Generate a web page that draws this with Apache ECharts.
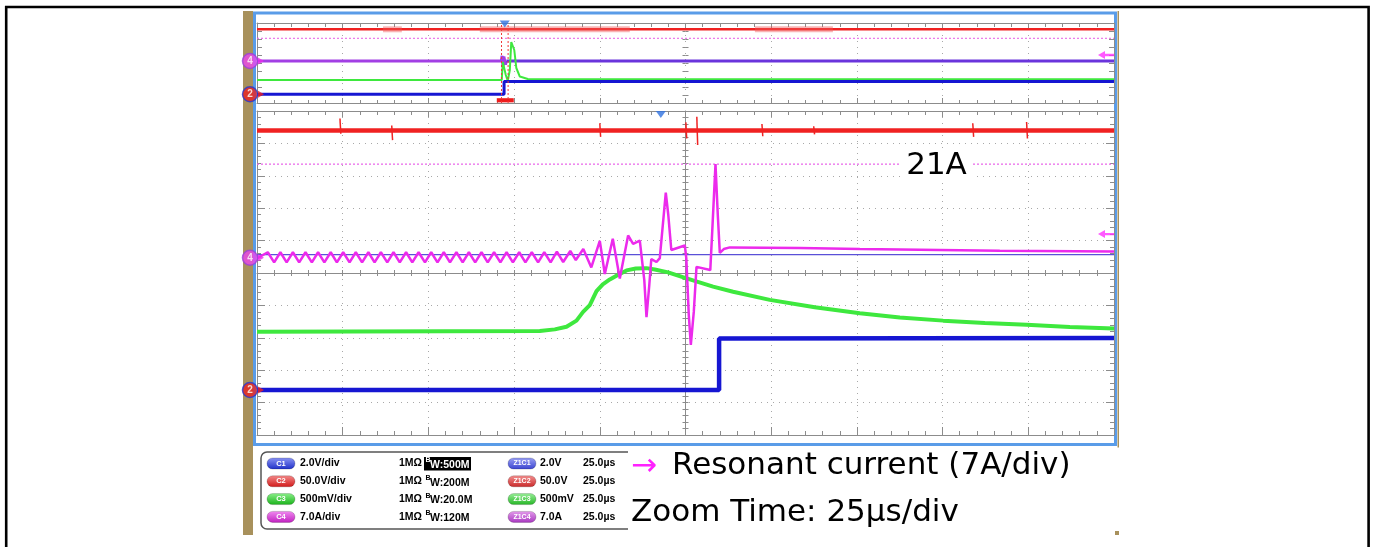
<!DOCTYPE html>
<html><head><meta charset="utf-8">
<script src="https://cdn.jsdelivr.net/npm/echarts@6/dist/echarts.min.js"></script>
<style>html,body{margin:0;padding:0;background:#fff}#c{width:1375px;height:547px}</style>
</head><body><div id="c"></div>
<script>
// ================= DATA =================
// Zoom (main) panel: x = time in µs (25 µs/div), y = screen divisions (10 div tall)
const ch1Main = [[-125,-3.61],[9.8,-3.61],[9.8,-2.02],[125,-2.01]];
const ch2Level = 4.40;
// ch2 glitches: [time µs, top div, bottom div]
const ch2Spikes = [[-100.8,4.77,4.30],[-85.7,4.55,4.10],[-25.0,4.62,4.20],[0.1,4.65,4.15],[3.3,4.82,3.95],
  [22.3,4.60,4.22],[37.4,4.53,4.28],[83.8,4.62,4.20],[99.5,4.66,4.15]];
const ch3Main = [[-125,-1.81],[-42.5,-1.79],[-38.13,-1.74],[-34.71,-1.66],[-31.8,-1.47],[-29.87,-1.2],[-27.92,-0.99],
  [-25.96,-0.56],[-24.13,-0.35],[-22.08,-0.2],[-19.75,-0.06],[-17.21,0.08],[-14.5,0.14],[-11.38,0.15],[-8.96,0.11],
  [-5.08,0.02],[0.09,-0.16],[8.05,-0.42],[13.89,-0.58],[24.59,-0.83],[37.72,-1.06],[50.85,-1.24],[62.52,-1.37],
  [75.15,-1.47],[87.31,-1.54],[99.48,-1.6],[112.11,-1.67],[125,-1.71]];
const ch4Main = [[-125,0.45],[-121.85,0.64],[-120.0,0.33],[-118.18,0.64],[-116.35,0.33],[-114.53,0.64],[-112.7,0.33],
  [-110.85,0.64],[-109.0,0.33],[-107.18,0.64],[-105.35,0.33],[-103.5,0.64],[-101.7,0.33],[-99.86,0.64],[-98.0,0.33],
  [-96.18,0.64],[-94.35,0.33],[-92.5,0.64],[-90.7,0.33],[-88.86,0.64],[-87.0,0.33],[-85.18,0.64],[-83.35,0.33],
  [-81.51,0.64],[-79.7,0.33],[-77.86,0.64],[-76.0,0.33],[-74.18,0.64],[-72.35,0.33],[-70.51,0.64],[-68.7,0.33],
  [-66.83,0.64],[-65.0,0.33],[-63.19,0.64],[-61.35,0.33],[-59.51,0.64],[-57.7,0.33],[-55.84,0.64],[-54.0,0.33],
  [-52.19,0.64],[-50.35,0.33],[-48.51,0.64],[-46.7,0.33],[-44.84,0.64],[-43.0,0.33],[-41.19,0.64],[-39.35,0.33],
  [-37.52,0.66],[-35.68,0.34],[-33.61,0.68],[-32.0,0.40],[-29.81,0.74],[-27.48,0.17],[-25.0,0.99],[-23.54,-0.03],
  [-21.21,1.06],[-19.17,-0.17],[-16.74,1.16],[-15.29,0.90],[-13.33,1.00],[-12.75,0.99],[-12.02,-0.22],[-11.38,-1.36],
  [-10.56,-0.37],[-9.98,0.43],[-8.46,0.34],[-7.5,0.46],[-6.62,1.48],[-5.75,2.48],[-5.02,1.79],[-4.14,0.71],
  [-3.56,0.77],[-0.2,0.85],[0.23,0.46],[0.96,-1.30],[1.55,-2.22],[2.42,-1.20],[3.21,0.19],[3.73,0.20],[7.23,0.09],
  [7.82,1.33],[8.75,3.36],[9.42,1.79],[10.01,0.62],[11.17,0.74],[12.92,0.79],[33.34,0.77],[50.85,0.74],[91.69,0.69],[125,0.66]];
const ch4RefLevel = 0.57;
const cursorLevel = 3.36;
const cursorLabel = '21A';
const mainTrigger = [-7.2, 4.89];
const mainMarkers = [{ch:'4', v:0.47}, {ch:'2', v:-3.61}];
const mainArrowLevel = 1.20;

// Overview panel: x = divisions (-5..5), y = eighth-divisions (-5..5)
const ovCh1 = [[-5,-3.91],[-2.117,-3.91],[-2.117,-2.31],[5,-2.31]];
const ovCh2Level = 4.21;
const ovCh2Bursts = [[-3.53,-3.31],[-2.40,-0.65],[0.81,1.72]];
const ovCh3 = [[-5,-2.125],[-2.144,-2.125],[-2.132,0.125],[-2.109,0.375],[-2.097,-1.5],[-2.074,-2.25],[-2.05,-0.875],
  [-2.033,2.625],[-2.015,2.75],[-1.998,1.625],[-1.974,-0.625],[-1.933,-1.69],[-1.84,-2.0],[-1.0,-2.04],[5,-2.04]];
const ovCh4 = [[-5,0.25],[-2.15,0.25],[-2.14,0.9],[-2.13,-0.4],[-2.12,0.8],[-2.10,-0.2],[-2.09,0.25],[5,0.25]];
const ovCursorLevel = 3.09;
const ovCursorsX = [-2.147, -2.07];
const ovZoomWindow = [-2.202, -2.004];
const ovTrigger = [-2.109, 4.875];
const ovMarkers = [{ch:'4', v:0.25}, {ch:'2', v:-3.91}];
const ovArrowLevel = 1.0;

// Legend table
const legendCh = ['C1','C2','C3','C4'];
const legendScale = ['2.0V/div','50.0V/div','500mV/div','7.0A/div'];
const legendImp = ['1MΩ','1MΩ','1MΩ','1MΩ'];
const legendBw = ['500M','200M','20.0M','120M'];
const legendZoom = ['Z1C1','Z1C2','Z1C3','Z1C4'];
const legendZoomScale = ['2.0V','50.0V','500mV','7.0A'];
const legendZoomTime = ['25.0µs','25.0µs','25.0µs','25.0µs'];
const noteLine1 = 'Resonant current (7A/div)';
const noteLine2 = 'Zoom Time: 25µs/div';

// ================= STYLE =================
const GRAY = '#8c8c8c', DOT = '#a8a8a8';
const RED = '#f02222', GREEN = '#3ee83e', BLUE = '#1616d2', MAG = '#ec2aec';
const pillCols = [['#8a94f4','#1f2fc8'],['#f48a8a','#d01818'],['#8af08a','#18b018'],['#f08af0','#c020c0']];
const zPillCols = [['#9aa0f4','#3a44d0'],['#f49090','#c82828'],['#9af09a','#24b424'],['#e39aeb','#a838c0']];

function ax(o){
  return {type:'value', gridIndex:o.grid, min:o.min, max:o.max, interval:o.interval, position:o.pos,
    axisLabel:{show:false},
    axisLine:{show:o.line!==false, onZero:!!o.onZero, onZeroAxisIndex:o.onZeroIdx, lineStyle:{color:GRAY,width:1}},
    axisTick:{show:true, inside:!!o.inside, length:o.tick, lineStyle:{color:GRAY,width:1}},
    minorTick:{show:!!o.minor, splitNumber:5, length:o.minor||0, lineStyle:{color:GRAY,width:1}},
    splitLine:{show:!!o.split, lineStyle:{color:DOT,width:1,type:[1,5]}},
    minorSplitLine:{show:false}, silent:true};
}
const OV = {grid:0,min:-5,max:5,interval:1};
const MX = {grid:1,min:-125,max:125,interval:25};
const MY = {grid:1,min:-5,max:5,interval:1};
const xAxes = [
  ax(Object.assign({},OV,{pos:'bottom',inside:true,tick:5,minor:3,split:true})),
  ax(Object.assign({},OV,{pos:'top',inside:true,tick:6,minor:4})),
  ax(Object.assign({},MX,{pos:'bottom',inside:true,tick:8,minor:4,split:true})),
  ax(Object.assign({},MX,{pos:'top',inside:true,tick:6,minor:4})),
  ax(Object.assign({},MX,{pos:'bottom',onZero:true,onZeroIdx:2,inside:true,tick:3,minor:3})),
  ax(Object.assign({},MX,{pos:'top',onZero:true,onZeroIdx:2,line:false,inside:true,tick:3,minor:3}))
];
const yAxes = [
  ax(Object.assign({},OV,{pos:'left',inside:true,tick:5})),
  ax(Object.assign({},OV,{pos:'right',inside:true,tick:5})),
  ax(Object.assign({},MY,{pos:'left',inside:true,tick:8,minor:4,split:true})),
  ax(Object.assign({},MY,{pos:'right',inside:true,tick:8,minor:4})),
  ax(Object.assign({},MY,{pos:'left',onZero:true,onZeroIdx:2,inside:false,tick:3,minor:3})),
  ax(Object.assign({},MY,{pos:'right',onZero:true,onZeroIdx:2,line:false,inside:false,tick:3,minor:3})),
  ax(Object.assign({},OV,{pos:'left',onZero:true,onZeroIdx:0,line:false,inside:false,tick:3})),
  ax(Object.assign({},OV,{pos:'right',onZero:true,onZeroIdx:0,line:false,inside:false,tick:3}))
];

function line(data, xi, yi, color, width, extra){
  return Object.assign({type:'line', data:data, xAxisIndex:xi, yAxisIndex:yi, symbol:'none', showSymbol:false,
    animation:false, silent:true, z:3, lineStyle:{color:color, width:width}}, extra||{});
}
function markerSeries(xi, yi, xEdge, list){
  const cfg = {'4':{fill:'#ec46ec',border:'#9a40d8',arrow:MAG}, '2':{fill:'#e82020',border:'#2838d0',arrow:RED}};
  return [{type:'scatter', xAxisIndex:xi, yAxisIndex:yi, clip:false, silent:true, animation:false, z:10,
    symbol:'circle', symbolSize:15, symbolOffset:[-7,0],
    data:list.map(m=>({value:[xEdge,m.v], itemStyle:{color:cfg[m.ch].fill, borderColor:cfg[m.ch].border, borderWidth:1.5},
      label:{show:true, formatter:m.ch, color:'#fff', fontSize:10, fontWeight:'bold', fontFamily:'Liberation Sans'}}))},
   {type:'scatter', xAxisIndex:xi, yAxisIndex:yi, clip:false, silent:true, animation:false, z:10,
    symbol:'triangle', symbolRotate:-90, symbolSize:[7,6], symbolOffset:[4,0],
    data:list.map(m=>({value:[xEdge,m.v], itemStyle:{color:cfg[m.ch].arrow}}))}];
}
const arrowPath = 'path://M0,5L7,0L7,3.5L16,3.5L16,6.5L7,6.5L7,10Z';
function arrowSeries(xi, yi, xEdge, v){
  return {type:'scatter', xAxisIndex:xi, yAxisIndex:yi, clip:false, silent:true, animation:false, z:10,
    symbol:arrowPath, symbolSize:[16,8], symbolOffset:[-8,0], itemStyle:{color:'#ff30ff'}, data:[[xEdge,v]]};
}
function trigSeries(xi, yi, p){
  return {type:'scatter', xAxisIndex:xi, yAxisIndex:yi, clip:false, silent:true, animation:false, z:10,
    symbol:'triangle', symbolRotate:180, symbolSize:[10,7], itemStyle:{color:'#2f72e0'}, data:[p]};
}

const series = [];
// ---- overview ----
series.push(line([[-5,ovCursorLevel],[5,ovCursorLevel]],0,0,'#e65ce6',1,{lineStyle:{color:'#e65ce6',width:1,type:[2,2]}}));
series.push(line([[-5,ovCh2Level],[5,ovCh2Level]],0,0,RED,2.5));
ovCh2Bursts.forEach(b=>series.push(line([[b[0],ovCh2Level],[b[1],ovCh2Level]],0,0,'rgba(240,90,90,0.45)',6)));
series.push(line(ovCh4.filter(p=>p[0]<=-2.09),0,0,'#a23fe4',3));
series.push(line(ovCh4.filter(p=>p[0]>=-2.09),0,0,'#6a34dc',3));
series.push(line(ovCh3,0,0,GREEN,2));
series.push(line(ovCh1,0,0,BLUE,3));
ovCursorsX.forEach(x=>series.push(line([[x,-5],[x,5]],0,0,RED,1,{lineStyle:{color:'#f03a3a',width:1,type:[2,2]}})));
series.push({type:'line', xAxisIndex:0, yAxisIndex:0, data:[], silent:true, animation:false,
  markArea:{silent:true, itemStyle:{color:'#ee1c1c'}, data:[[{xAxis:ovZoomWindow[0],yAxis:-4.92},{xAxis:ovZoomWindow[1],yAxis:-4.4}]]}});
series.push(trigSeries(0,0,ovTrigger));
markerSeries(0,0,-5,ovMarkers).forEach(s=>series.push(s));
series.push(arrowSeries(0,0,5,ovArrowLevel));
// ---- main ----
series.push(line([[-125,cursorLevel],[125,cursorLevel]],2,2,'#e860e8',1.2,{lineStyle:{color:'#e860e8',width:1.2,type:[2,2]}}));
series.push(line([[-125,ch4RefLevel],[125,ch4RefLevel]],2,2,'#5a50d8',1.2));
series.push(line(ch3Main,2,2,GREEN,4));
series.push(line(ch1Main,2,2,BLUE,4.5));
series.push(line([[-125,ch2Level],[125,ch2Level]],2,2,RED,4.5));
ch2Spikes.forEach(s=>series.push(line([[s[0],s[1]],[s[0]+0.25,s[2]]],2,2,RED,1.5)));
series.push(line(ch4Main,2,2,MAG,2.5));
series.push(trigSeries(2,2,mainTrigger));
markerSeries(2,2,-125,mainMarkers).forEach(s=>series.push(s));
series.push(arrowSeries(2,2,125,mainArrowLevel));

// ---- graphic (frame, legend, notes) ----
function grad(c){return {type:'linear',x:0,y:0,x2:0,y2:1,colorStops:[{offset:0,color:c[0]},{offset:1,color:c[1]}]};}
function txt(x,y,t,font,fill,align,z){
  return {type:'text', x:x, y:y, z:z||5, silent:true,
    style:{text:t, font:font, fill:fill||'#000', align:align||'left', textAlign:align||'left', verticalAlign:'middle', textVerticalAlign:'middle'}};
}
const LF = 'bold 10.5px "Liberation Sans", Arial, sans-serif';
const g = [];
g.push({type:'rect', z:-100, silent:true, shape:{x:243,y:11,width:876,height:524}, style:{fill:'#a8915c'}});
g.push({type:'rect', z:-99, silent:true, shape:{x:253,y:11,width:864.5,height:524}, style:{fill:'#fff'}});
g.push({type:'rect', z:-98, silent:true, shape:{x:254.5,y:13,width:861,height:431.5}, style:{fill:'none', stroke:'#5a9ce8', lineWidth:3}});
g.push({type:'rect', z:-97, silent:true, shape:{x:261,y:452,width:420,height:77,r:6}, style:{fill:'#fff', stroke:'#555', lineWidth:1.5}});
legendCh.forEach((c,i)=>{
  const y = 463.5 + 17.8*i;
  g.push({type:'rect', z:5, silent:true, shape:{x:267,y:y-5.5,width:28,height:11,r:5.5}, style:{fill:grad(pillCols[i]), stroke:'rgba(0,0,0,0.3)', lineWidth:0.6}});
  g.push(txt(281,y,c,'bold 7.5px "Liberation Sans", Arial','#fff','center',6));
  g.push(txt(300,y,legendScale[i],LF));
  g.push(txt(399,y,legendImp[i],LF));
  const hi = i===0;
  if (hi) g.push({type:'rect', z:5, silent:true, shape:{x:424,y:y-6.5,width:47,height:13.5}, style:{fill:'#000'}});
  g.push(txt(425.5,y-3.5,'B','bold 7px "Liberation Sans", Arial',hi?'#fff':'#000','left',6));
  g.push(txt(430,y+1.5,'W:'+legendBw[i],LF,hi?'#fff':'#000','left',6));
  g.push({type:'rect', z:5, silent:true, shape:{x:508,y:y-5.5,width:28,height:11,r:5.5}, style:{fill:grad(zPillCols[i]), stroke:'rgba(0,0,0,0.3)', lineWidth:0.6}});
  g.push(txt(522,y,legendZoom[i],'bold 7px "Liberation Sans", Arial','#fff','center',6));
  g.push(txt(540,y,legendZoomScale[i],LF));
  g.push(txt(583,y,legendZoomTime[i],LF));
});
// notes box
g.push({type:'rect', z:100, silent:true, shape:{x:628,y:447.5,width:492,height:84}, style:{fill:'#fff'}});
g.push({type:'rect', z:100, silent:true, shape:{x:1115,y:531,width:4,height:4}, style:{fill:'#a8915c'}});
g.push(txt(631,466.5,'→','31px "DejaVu Sans", Verdana, sans-serif','#ff22ff','left',101));
g.push(txt(672,466,noteLine1,'31px "DejaVu Sans", Verdana, sans-serif','#000','left',101));
g.push(txt(631,512.5,noteLine2,'31px "DejaVu Sans", Verdana, sans-serif','#000','left',101));
// 21A label
g.push({type:'text', x:936.5, y:165.5, z:100, silent:true,
  style:{text:cursorLabel, font:'31px "DejaVu Sans", Verdana, sans-serif', fill:'#000', align:'center', textAlign:'center',
    verticalAlign:'middle', textVerticalAlign:'middle', backgroundColor:'#fff', padding:[2,6]}});
// outer black frame
g.push({type:'polyline', z:100, silent:true, shape:{points:[[6.2,547],[6.2,7],[1368.6,7],[1368.6,547]]}, style:{stroke:'#000', lineWidth:2.6, fill:null}});

const chart = echarts.init(document.getElementById('c'), null, {renderer:'canvas', width:1375, height:547});
chart.setOption({
  backgroundColor:'#fff', animation:false,
  grid:[{left:257,top:23,width:857,height:80,containLabel:false},{left:257,top:111,width:857,height:324,containLabel:false}],
  xAxis:xAxes, yAxis:yAxes, series:series, graphic:{elements:g}
});
</script></body></html>
